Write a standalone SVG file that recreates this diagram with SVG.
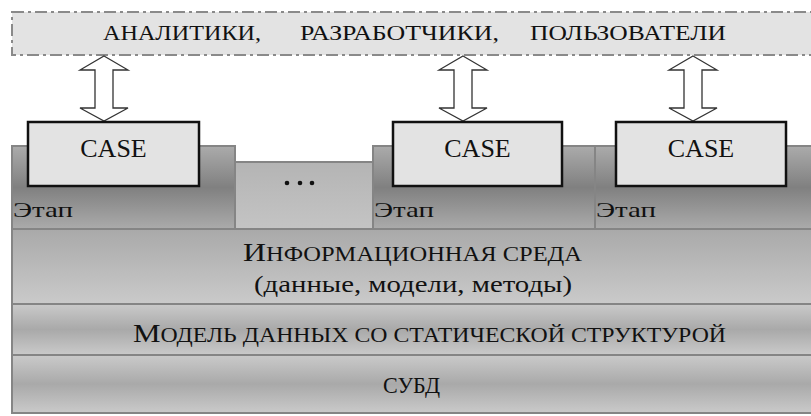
<svg xmlns="http://www.w3.org/2000/svg" width="811" height="416" viewBox="0 0 811 416">
<style>
.t{font-family:'Liberation Serif','Times New Roman',serif;fill:#111}
.case{fill:#e3e3e3;stroke:#111;stroke-width:2.5}
.panel{stroke:#858585;stroke-width:2}
.arrow{fill:#fff;stroke:#333;stroke-width:1.3;stroke-linejoin:miter}
</style>
<defs>
<linearGradient id="gStage" x1="0" y1="0" x2="0" y2="1">
<stop offset="0" stop-color="#ababab"/><stop offset="0.5" stop-color="#808080"/><stop offset="1" stop-color="#ababab"/>
</linearGradient>
<linearGradient id="gDots" x1="0" y1="0" x2="0" y2="1">
<stop offset="0" stop-color="#b4b4b4"/><stop offset="1" stop-color="#c4c4c4"/>
</linearGradient>
<linearGradient id="gInfo" x1="0" y1="0" x2="0" y2="1">
<stop offset="0" stop-color="#a9a9a9"/><stop offset="1" stop-color="#cacaca"/>
</linearGradient>
<linearGradient id="gRow" x1="0" y1="0" x2="0" y2="1">
<stop offset="0" stop-color="#cacaca"/><stop offset="0.5" stop-color="#a9a9a9"/><stop offset="1" stop-color="#cacaca"/>
</linearGradient>
<path id="dArrow" d="M0,0 L24,14 L9,14 L9,52 L24,52 L0,65 L-24,52 L-9,52 L-9,14 L-24,14 Z"/>
</defs>

<g id="users">
<rect x="12" y="12" width="820" height="43" fill="#e3e3e3" stroke="#8a8a8a" stroke-width="2" stroke-dasharray="12,4,3,4"/>
<text class="t" x="103" y="40" font-size="22" textLength="158" lengthAdjust="spacingAndGlyphs">АНАЛИТИКИ,</text>
<text class="t" x="300" y="40" font-size="22" textLength="199" lengthAdjust="spacingAndGlyphs">РАЗРАБОТЧИКИ,</text>
<text class="t" x="530" y="40" font-size="22" textLength="196" lengthAdjust="spacingAndGlyphs">ПОЛЬЗОВАТЕЛИ</text>
</g>

<g id="connectors">
<use href="#dArrow" class="arrow" transform="translate(104,56)"/>
<use href="#dArrow" class="arrow" transform="translate(463,56)"/>
<use href="#dArrow" class="arrow" transform="translate(693,56)"/>
</g>

<g id="subd">
<rect class="panel" x="12" y="355" width="810" height="58" fill="url(#gRow)"/>
<text class="t" x="411.5" y="393" font-size="24" text-anchor="middle" textLength="57" lengthAdjust="spacingAndGlyphs">СУБД</text>
</g>
<g id="model">
<rect class="panel" x="12" y="304" width="810" height="51" fill="url(#gRow)"/>
<text class="t" x="133" y="342" font-size="20" textLength="593" lengthAdjust="spacingAndGlyphs"><tspan font-size="26">М</tspan>ОДЕЛЬ ДАННЫХ СО СТАТИЧЕСКОЙ СТРУКТУРОЙ</text>
</g>
<g id="info">
<rect class="panel" x="12" y="229" width="810" height="75" fill="url(#gInfo)"/>
<text class="t" x="243" y="261" font-size="20" textLength="339" lengthAdjust="spacingAndGlyphs"><tspan font-size="26">И</tspan>НФОРМАЦИОННАЯ СРЕДА</text>
<text class="t" x="413" y="292" font-size="23" text-anchor="middle" textLength="318" lengthAdjust="spacingAndGlyphs">(данные, модели, методы)</text>
</g>

<g id="dots">
<rect class="panel" x="235" y="162" width="138" height="67" fill="url(#gDots)"/>
<circle cx="287" cy="183" r="2.3" fill="#111"/>
<circle cx="300" cy="183" r="2.3" fill="#111"/>
<circle cx="312" cy="183" r="2.3" fill="#111"/>
</g>

<g id="stage1">
<rect class="panel" x="12" y="146" width="223" height="83" fill="url(#gStage)"/>
<text class="t" x="13" y="217" font-size="22" textLength="60" lengthAdjust="spacingAndGlyphs">Этап</text>
</g>
<g id="stage2">
<rect class="panel" x="373" y="146" width="222" height="83" fill="url(#gStage)"/>
<text class="t" x="374" y="217" font-size="22" textLength="60" lengthAdjust="spacingAndGlyphs">Этап</text>
</g>
<g id="stage3">
<rect class="panel" x="595" y="146" width="227" height="83" fill="url(#gStage)"/>
<text class="t" x="596" y="217" font-size="22" textLength="60" lengthAdjust="spacingAndGlyphs">Этап</text>
</g>

<g id="case1">
<rect class="case" x="28" y="122" width="171" height="64"/>
<text class="t" x="113.5" y="157" font-size="26" text-anchor="middle">CASE</text>
</g>
<g id="case2">
<rect class="case" x="393" y="122" width="169" height="64"/>
<text class="t" x="477.5" y="157" font-size="26" text-anchor="middle">CASE</text>
</g>
<g id="case3">
<rect class="case" x="616" y="122" width="170" height="64"/>
<text class="t" x="701" y="157" font-size="26" text-anchor="middle">CASE</text>
</g>
</svg>
